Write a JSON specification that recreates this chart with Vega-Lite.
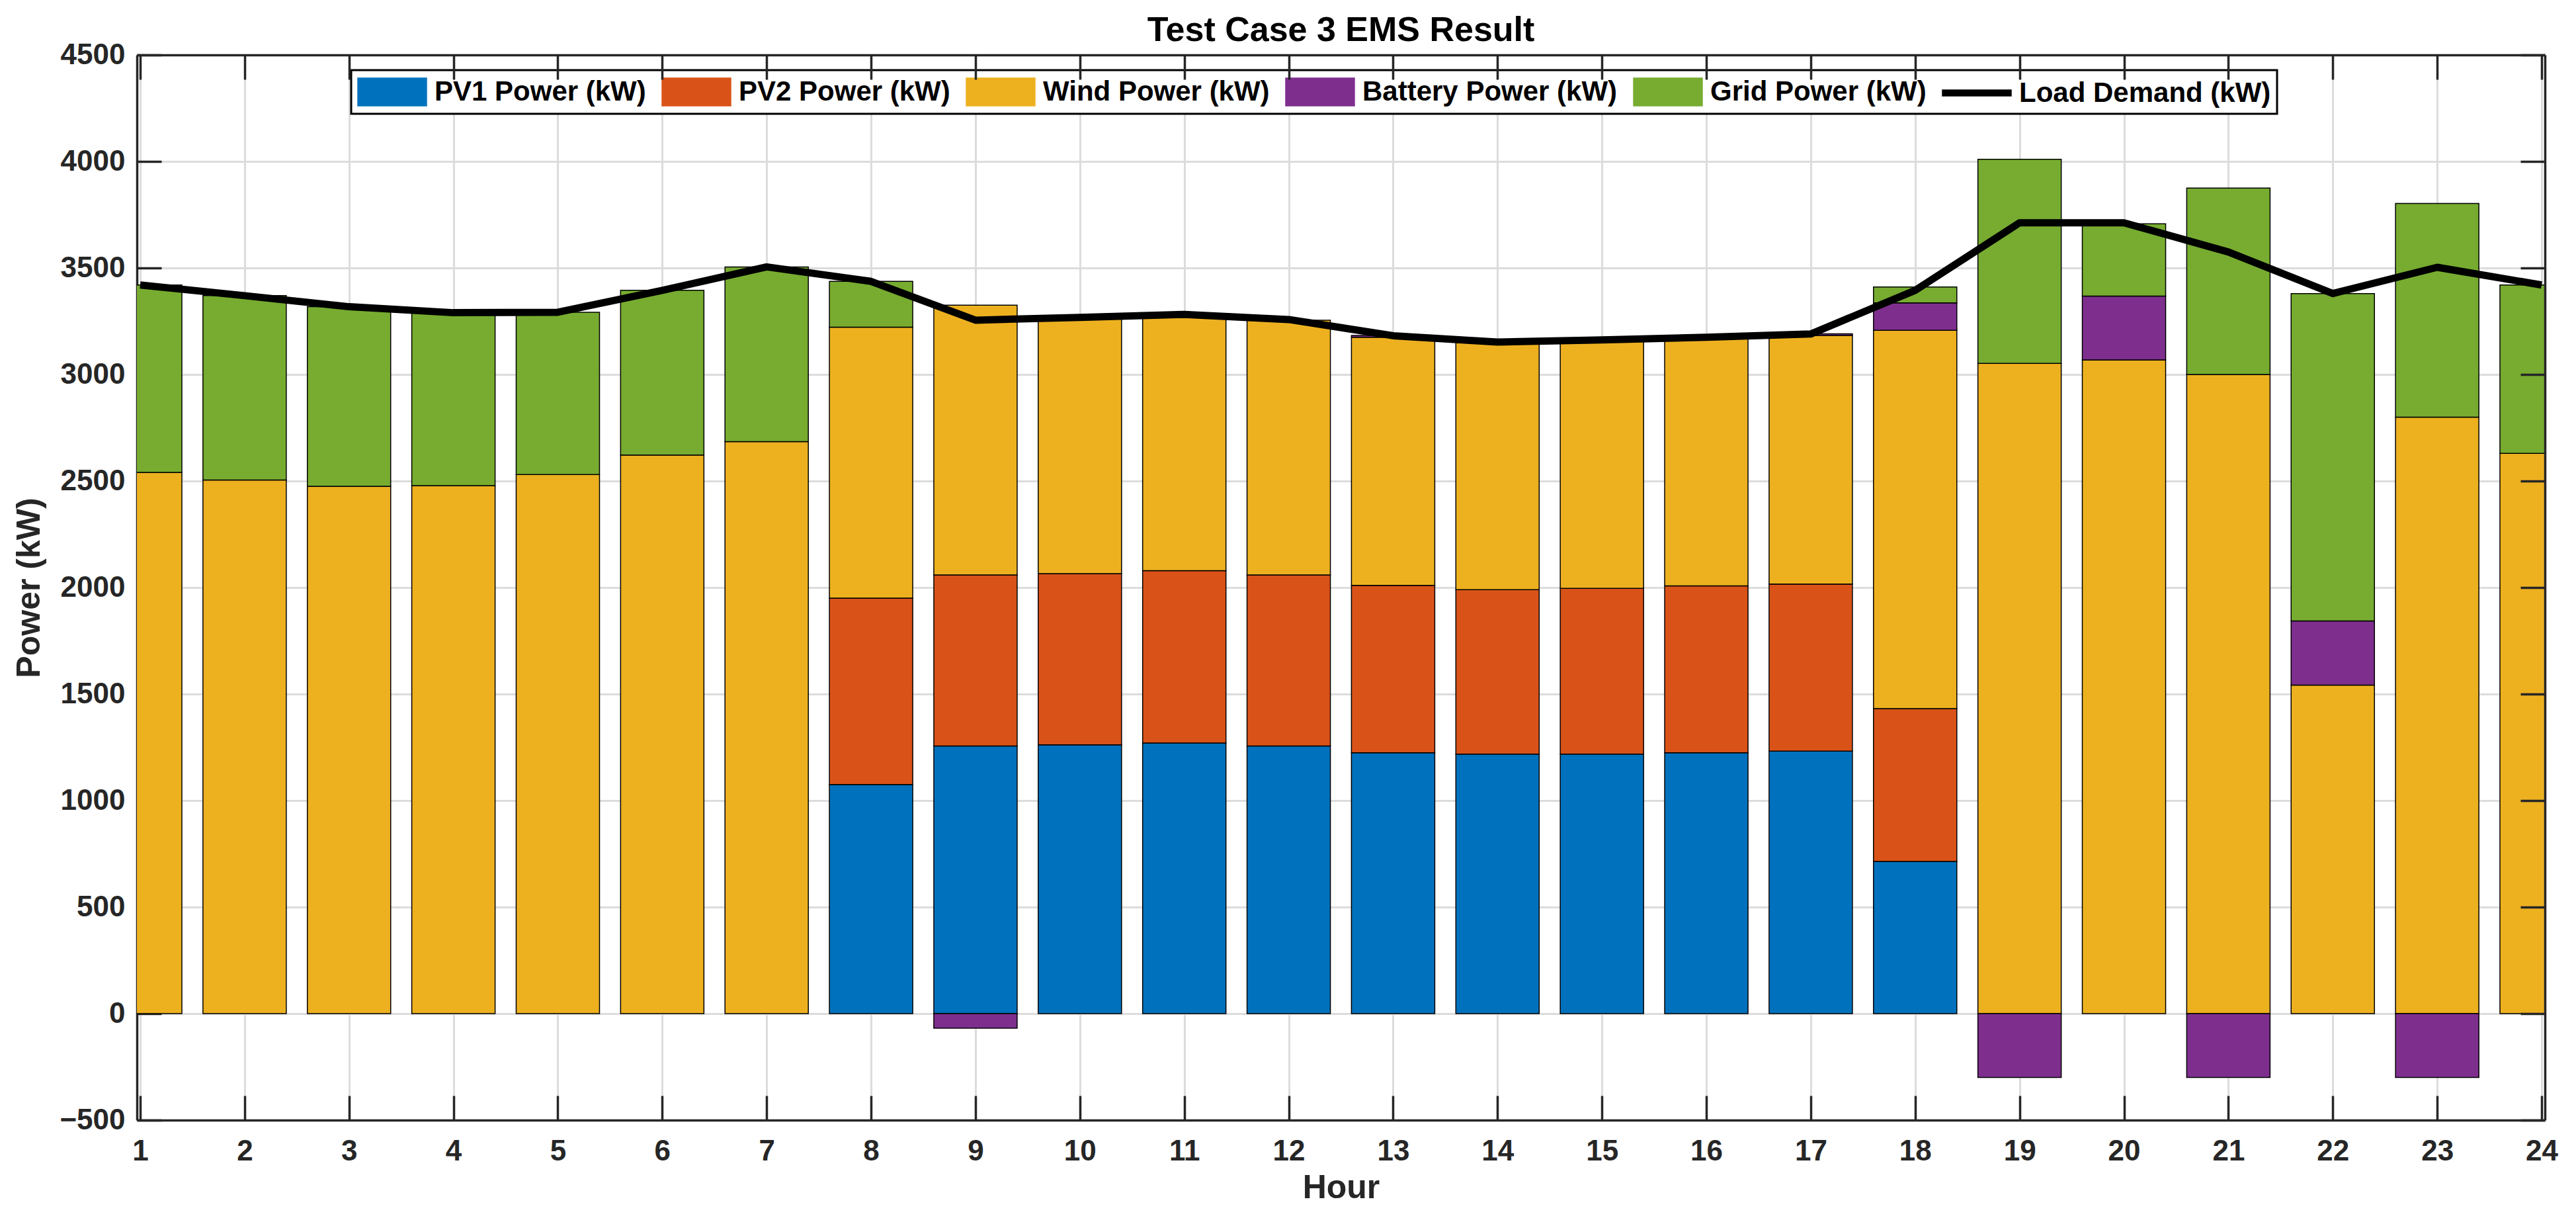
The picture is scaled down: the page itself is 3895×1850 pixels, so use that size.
{
  "$schema": "https://vega.github.io/schema/vega-lite/v6.json",
  "description": "Test Case 3 EMS result: stacked sources per hour against load demand.",
  "width": 3641,
  "height": 1610,
  "autosize": {"type": "none"},
  "padding": {"left": 207, "top": 83, "right": 47, "bottom": 157},
  "background": "white",
  "title": {
    "text": "Test Case 3 EMS Result",
    "font": "Liberation Sans",
    "fontSize": 52,
    "fontWeight": "bold",
    "color": "black",
    "offset": -12,
    "anchor": "middle"
  },
  "datasets": {
    "gen": [
      {"h": 1, "s": "Wind Power (kW)", "p": 2540, "k": 3},
      {"h": 1, "s": "Grid Power (kW)", "p": 880, "k": 5},
      {"h": 2, "s": "Wind Power (kW)", "p": 2505, "k": 3},
      {"h": 2, "s": "Grid Power (kW)", "p": 865, "k": 5},
      {"h": 3, "s": "Wind Power (kW)", "p": 2475, "k": 3},
      {"h": 3, "s": "Grid Power (kW)", "p": 843, "k": 5},
      {"h": 4, "s": "Wind Power (kW)", "p": 2478, "k": 3},
      {"h": 4, "s": "Grid Power (kW)", "p": 812, "k": 5},
      {"h": 5, "s": "Wind Power (kW)", "p": 2530, "k": 3},
      {"h": 5, "s": "Grid Power (kW)", "p": 762, "k": 5},
      {"h": 6, "s": "Wind Power (kW)", "p": 2622, "k": 3},
      {"h": 6, "s": "Grid Power (kW)", "p": 773, "k": 5},
      {"h": 7, "s": "Wind Power (kW)", "p": 2685, "k": 3},
      {"h": 7, "s": "Grid Power (kW)", "p": 820, "k": 5},
      {"h": 8, "s": "PV1 Power (kW)", "p": 1075, "k": 1},
      {"h": 8, "s": "PV2 Power (kW)", "p": 875, "k": 2},
      {"h": 8, "s": "Wind Power (kW)", "p": 1272, "k": 3},
      {"h": 8, "s": "Grid Power (kW)", "p": 215, "k": 5},
      {"h": 9, "s": "PV1 Power (kW)", "p": 1256, "k": 1},
      {"h": 9, "s": "PV2 Power (kW)", "p": 803, "k": 2},
      {"h": 9, "s": "Wind Power (kW)", "p": 1266, "k": 3},
      {"h": 9, "s": "Battery Power (kW)", "p": -68, "k": 4},
      {"h": 10, "s": "PV1 Power (kW)", "p": 1262, "k": 1},
      {"h": 10, "s": "PV2 Power (kW)", "p": 803, "k": 2},
      {"h": 10, "s": "Wind Power (kW)", "p": 1200, "k": 3},
      {"h": 11, "s": "PV1 Power (kW)", "p": 1270, "k": 1},
      {"h": 11, "s": "PV2 Power (kW)", "p": 809, "k": 2},
      {"h": 11, "s": "Wind Power (kW)", "p": 1206, "k": 3},
      {"h": 12, "s": "PV1 Power (kW)", "p": 1256, "k": 1},
      {"h": 12, "s": "PV2 Power (kW)", "p": 803, "k": 2},
      {"h": 12, "s": "Wind Power (kW)", "p": 1196, "k": 3},
      {"h": 13, "s": "PV1 Power (kW)", "p": 1224, "k": 1},
      {"h": 13, "s": "PV2 Power (kW)", "p": 786, "k": 2},
      {"h": 13, "s": "Wind Power (kW)", "p": 1165, "k": 3},
      {"h": 13, "s": "Battery Power (kW)", "p": 8, "k": 4},
      {"h": 14, "s": "PV1 Power (kW)", "p": 1218, "k": 1},
      {"h": 14, "s": "PV2 Power (kW)", "p": 772, "k": 2},
      {"h": 14, "s": "Wind Power (kW)", "p": 1158, "k": 3},
      {"h": 15, "s": "PV1 Power (kW)", "p": 1218, "k": 1},
      {"h": 15, "s": "PV2 Power (kW)", "p": 778, "k": 2},
      {"h": 15, "s": "Wind Power (kW)", "p": 1162, "k": 3},
      {"h": 16, "s": "PV1 Power (kW)", "p": 1224, "k": 1},
      {"h": 16, "s": "PV2 Power (kW)", "p": 784, "k": 2},
      {"h": 16, "s": "Wind Power (kW)", "p": 1162, "k": 3},
      {"h": 17, "s": "PV1 Power (kW)", "p": 1232, "k": 1},
      {"h": 17, "s": "PV2 Power (kW)", "p": 784, "k": 2},
      {"h": 17, "s": "Wind Power (kW)", "p": 1167, "k": 3},
      {"h": 17, "s": "Battery Power (kW)", "p": 8, "k": 4},
      {"h": 18, "s": "PV1 Power (kW)", "p": 714, "k": 1},
      {"h": 18, "s": "PV2 Power (kW)", "p": 718, "k": 2},
      {"h": 18, "s": "Wind Power (kW)", "p": 1775, "k": 3},
      {"h": 18, "s": "Battery Power (kW)", "p": 129, "k": 4},
      {"h": 18, "s": "Grid Power (kW)", "p": 75, "k": 5},
      {"h": 19, "s": "Wind Power (kW)", "p": 3052, "k": 3},
      {"h": 19, "s": "Battery Power (kW)", "p": -300, "k": 4},
      {"h": 19, "s": "Grid Power (kW)", "p": 958, "k": 5},
      {"h": 20, "s": "Wind Power (kW)", "p": 3068, "k": 3},
      {"h": 20, "s": "Battery Power (kW)", "p": 300, "k": 4},
      {"h": 20, "s": "Grid Power (kW)", "p": 339, "k": 5},
      {"h": 21, "s": "Wind Power (kW)", "p": 3000, "k": 3},
      {"h": 21, "s": "Battery Power (kW)", "p": -300, "k": 4},
      {"h": 21, "s": "Grid Power (kW)", "p": 875, "k": 5},
      {"h": 22, "s": "Wind Power (kW)", "p": 1542, "k": 3},
      {"h": 22, "s": "Battery Power (kW)", "p": 301, "k": 4},
      {"h": 22, "s": "Grid Power (kW)", "p": 1537, "k": 5},
      {"h": 23, "s": "Wind Power (kW)", "p": 2800, "k": 3},
      {"h": 23, "s": "Battery Power (kW)", "p": -300, "k": 4},
      {"h": 23, "s": "Grid Power (kW)", "p": 1003, "k": 5},
      {"h": 24, "s": "Wind Power (kW)", "p": 2630, "k": 3},
      {"h": 24, "s": "Grid Power (kW)", "p": 790, "k": 5}
    ],
    "load": [
      {"h": 1, "load": 3420}, {"h": 2, "load": 3370}, {"h": 3, "load": 3318},
      {"h": 4, "load": 3290}, {"h": 5, "load": 3292}, {"h": 6, "load": 3395},
      {"h": 7, "load": 3505}, {"h": 8, "load": 3437}, {"h": 9, "load": 3255},
      {"h": 10, "load": 3268}, {"h": 11, "load": 3282}, {"h": 12, "load": 3258},
      {"h": 13, "load": 3182}, {"h": 14, "load": 3152}, {"h": 15, "load": 3162},
      {"h": 16, "load": 3175}, {"h": 17, "load": 3190}, {"h": 18, "load": 3395},
      {"h": 19, "load": 3712}, {"h": 20, "load": 3712}, {"h": 21, "load": 3575},
      {"h": 22, "load": 3380}, {"h": 23, "load": 3503}, {"h": 24, "load": 3420}
    ]
  },
  "layer": [
    {
      "data": {"name": "gen"},
      "mark": {"type": "bar", "size": 126, "stroke": "black", "strokeWidth": 1.5, "clip": true},
      "encoding": {
        "x": {
          "field": "h",
          "type": "quantitative",
          "scale": {"domain": [1, 24], "nice": false, "zero": false},
          "axis": {
            "orient": "bottom",
            "values": [1, 2, 3, 4, 5, 6, 7, 8, 9, 10, 11, 12, 13, 14, 15, 16, 17, 18, 19, 20, 21, 22, 23, 24],
            "format": "d",
            "title": "Hour",
            "titleFontSize": 50,
            "titlePadding": 8,
            "labelPadding": 62,
            "tickSize": -37,
            "labelFlush": false
          }
        },
        "y": {
          "field": "p",
          "type": "quantitative",
          "stack": "zero",
          "scale": {"domain": [-500, 4500], "nice": false},
          "axis": {
            "orient": "left",
            "values": [-500, 0, 500, 1000, 1500, 2000, 2500, 3000, 3500, 4000, 4500],
            "format": "d",
            "title": "Power (kW)",
            "titleFontSize": 50,
            "titlePadding": 20,
            "labelPadding": 55,
            "tickSize": -37
          }
        },
        "color": {
          "field": "s",
          "type": "nominal",
          "scale": {
            "domain": ["PV1 Power (kW)", "PV2 Power (kW)", "Wind Power (kW)", "Battery Power (kW)", "Grid Power (kW)", "Load Demand (kW)"],
            "range": ["#0072BD", "#D95319", "#EDB120", "#7E2F8E", "#77AC30", "#000000"]
          },
          "legend": {
            "orient": "none",
            "legendX": 324,
            "legendY": 23,
            "direction": "horizontal",
            "columns": 6,
            "title": null,
            "labelFont": "Liberation Sans",
            "labelFontSize": 42,
            "labelFontWeight": "bold",
            "labelColor": "black",
            "labelLimit": 0,
            "labelOffset": 40,
            "columnPadding": 21,
            "padding": 9,
            "strokeColor": "black",
            "fillColor": "white",
            "symbolSize": 2116,
            "symbolOffset": 29,
            "symbolType": "M-2.26,-0.91H2.26V0.91H-2.26Z",
            "symbolStrokeColor": "black",
            "symbolStrokeWidth": 1.5,
            "symbolOpacity": 1,
            "encode": {
              "legend": {
                "update": {"strokeWidth": {"value": 3}}
              },
              "symbols": {
                "update": {
                  "shape": {"signal": "datum.label === 'Load Demand (kW)' ? 'M-2.26,-0.2H2.26V0.2H-2.26Z' : 'M-2.26,-0.91H2.26V0.91H-2.26Z'"}
                }
              }
            }
          }
        },
        "order": {"field": "k", "type": "quantitative"}
      }
    },
    {
      "data": {"name": "load"},
      "mark": {"type": "line", "strokeWidth": 11, "strokeJoin": "round"},
      "encoding": {
        "x": {
          "field": "h",
          "type": "quantitative",
          "axis": {
            "orient": "top",
            "values": [1, 2, 3, 4, 5, 6, 7, 8, 9, 10, 11, 12, 13, 14, 15, 16, 17, 18, 19, 20, 21, 22, 23, 24],
            "labels": false,
            "grid": false,
            "title": null,
            "tickSize": -37,
            "zindex": 1
          }
        },
        "y": {
          "field": "load",
          "type": "quantitative",
          "axis": {
            "orient": "right",
            "values": [-500, 0, 500, 1000, 1500, 2000, 2500, 3000, 3500, 4000, 4500],
            "labels": false,
            "grid": false,
            "title": null,
            "tickSize": -37,
            "zindex": 1
          }
        },
        "color": {"datum": "Load Demand (kW)"}
      }
    }
  ],
  "resolve": {"axis": {"x": "independent", "y": "independent"}},
  "config": {
    "view": {"stroke": null},
    "font": "Liberation Sans",
    "axis": {
      "labelFont": "Liberation Sans",
      "labelFontSize": 44,
      "labelFontWeight": "bold",
      "labelColor": "#262626",
      "titleFont": "Liberation Sans",
      "titleFontWeight": "bold",
      "titleColor": "#262626",
      "domainColor": "#262626",
      "domainWidth": 3.5,
      "tickColor": "#262626",
      "tickWidth": 3.5,
      "gridColor": "#dcdcdc",
      "gridWidth": 3,
      "gridOpacity": 1
    }
  }
}
